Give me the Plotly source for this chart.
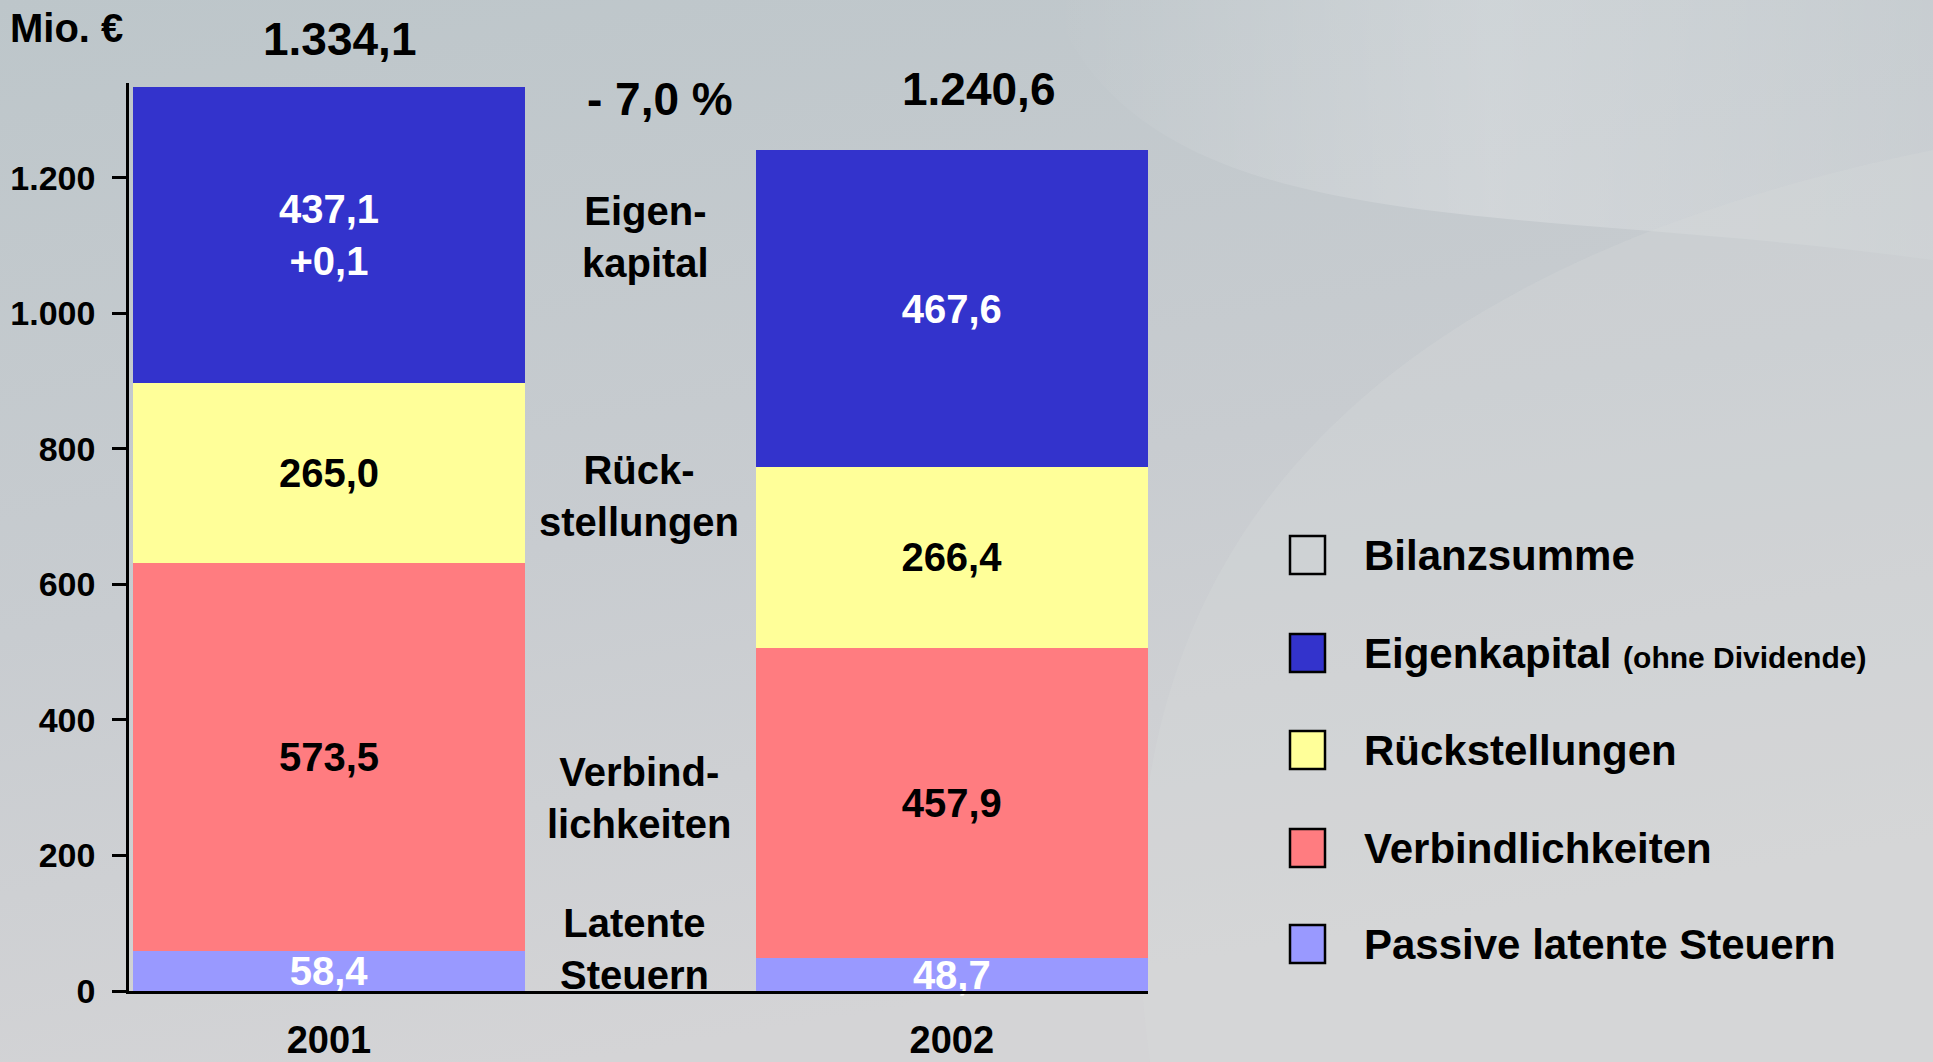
import base64
import plotly.graph_objects as go

# ---- data ----
years = ["2001", "2002"]
latente_steuern = [58.4, 48.7]
verbindlichkeiten = [573.5, 457.9]
rueckstellungen = [265.0, 266.4]
eigenkapital = [437.2, 467.6]
eigenkapital_text = ["437,1<br>+0,1", "467,6"]
latente_text = ["58,4", "48,7"]
verbind_text = ["573,5", "457,9"]
rueck_text = ["265,0", "266,4"]
bilanzsumme_text = ["1.334,1", "1.240,6"]
change_text = "- 7,0 %"
tick_vals = [0, 200, 400, 600, 800, 1000, 1200]
tick_text = ["0", "200", "400", "600", "800", "1.000", "1.200"]
legend_labels = ["Bilanzsumme",
                 "Eigenkapital <span style='font-size:30px'>(ohne Dividende)</span>",
                 "Rückstellungen", "Verbindlichkeiten", "Passive latente Steuern"]
legend_colors = ["rgba(0,0,0,0)", "#3333CC", "#FFFF99", "#FF7C80", "#9999FF"]
mid_labels = ["Eigen-<br>kapital", "Rück-<br>stellungen", "Verbind-<br>lichkeiten", "Latente<br>Steuern"]

# ---- layout geometry ----
W, H = 1933, 1062
L, R, T, B = 129, 785, 83, 71
PW, PH = W - L - R, H - T - B
YMAX = 1340

def px2x(px):
    return (px - L) / PW

def py2y(py):
    return (H - B - py) / PH

FONT = "Liberation Sans, Arial, Helvetica, sans-serif"

fig = go.Figure()
segments = [
    ("Passive latente Steuern", latente_steuern, latente_text, "#9999FF", "white"),
    ("Verbindlichkeiten", verbindlichkeiten, verbind_text, "#FF7C80", "black"),
    ("Rückstellungen", rueckstellungen, rueck_text, "#FFFF99", "black"),
    ("Eigenkapital", eigenkapital, eigenkapital_text, "#3333CC", "white"),
]
for name, vals, txt, col, tcol in segments:
    fig.add_trace(go.Bar(
        x=[0, 1], y=vals, name=name, text=txt, textposition="inside",
        insidetextanchor="middle", constraintext="none", cliponaxis=False,
        textfont=dict(family=FONT, size=40, color=tcol, weight="bold"),
        marker=dict(color=col, line=dict(width=0)), width=0.63,
        showlegend=False, hoverinfo="skip"))

annotations = []

def label(cx, cy, text, size, xanchor="center"):
    annotations.append(dict(x=px2x(cx), y=py2y(cy), xref="paper", yref="paper", text=text,
                            showarrow=False, xanchor=xanchor, yanchor="middle", align="center",
                            font=dict(family=FONT, size=size, color="black", weight="bold")))

# totals (Bilanzsumme) above the bars
for (cx, cy), txt in zip([(339, 39), (978, 89)], bilanzsumme_text):
    label(cx, cy, txt, 46)
label(660, 99, change_text, 46)
label(8, 28, "Mio. €", 40, xanchor="left")
for (cx, cy), t in zip([(645, 237), (639, 496), (639, 798), (634, 949)], mid_labels):
    label(cx, cy, t, 40)

shapes = []
leg_y = [555, 653, 750, 848, 944]
for yy, lab, col in zip(leg_y, legend_labels, legend_colors):
    shapes.append(dict(type="rect", xref="paper", yref="paper",
                       x0=px2x(1290), x1=px2x(1325), y0=py2y(yy + 19), y1=py2y(yy - 19),
                       fillcolor=col, line=dict(color="black", width=2.5)))
    label(1362, yy, lab, 42, xanchor="left")

svg = f"""<svg xmlns='http://www.w3.org/2000/svg' width='{W}' height='{H}' viewBox='0 0 {W} {H}'>
<defs>
<linearGradient id='g' x1='0' y1='0' x2='0.3' y2='1'>
<stop offset='0' stop-color='#bdc6ca'/><stop offset='0.55' stop-color='#c8ccd0'/><stop offset='1' stop-color='#d4d4d6'/>
</linearGradient>
<linearGradient id='s' x1='0' y1='0' x2='1' y2='0'>
<stop offset='0' stop-color='#ffffff' stop-opacity='0'/><stop offset='0.5' stop-color='#ffffff' stop-opacity='0.22'/><stop offset='1' stop-color='#ffffff' stop-opacity='0.08'/>
</linearGradient>
</defs>
<rect width='{W}' height='{H}' fill='url(#g)'/>
<path d='M1050,0 C1150,250 1500,200 1933,260 L1933,0 Z' fill='url(#s)'/>
<path d='M1150,1062 C1100,700 1200,300 1933,150 L1933,1062 Z' fill='#d8d9db' fill-opacity='0.3'/>
</svg>"""
uri = "data:image/svg+xml;base64," + base64.b64encode(svg.encode()).decode()

fig.update_layout(
    width=W, height=H, barmode="stack",
    margin=dict(l=L, r=R, t=T, b=B, autoexpand=False),
    paper_bgcolor="#c8cdd0", plot_bgcolor="rgba(0,0,0,0)",
    images=[dict(source=uri, xref="paper", yref="paper", x=px2x(0), y=py2y(0),
                 sizex=W / PW, sizey=H / PH, sizing="stretch", layer="below",
                 xanchor="left", yanchor="top")],
    annotations=annotations, shapes=shapes, showlegend=False,
    xaxis=dict(range=[-0.321, 1.315], tickvals=[0, 1], ticktext=years, showgrid=False,
               showline=True, linecolor="black", linewidth=2.5, ticks="", zeroline=False,
               ticklabelstandoff=14, fixedrange=True,
               tickfont=dict(family=FONT, size=38, color="black", weight="bold")),
    yaxis=dict(range=[0, YMAX], tickvals=tick_vals, ticktext=tick_text, showgrid=False,
               showline=True, linecolor="black", linewidth=2.5, ticks="outside", ticklen=14,
               tickwidth=2.5, tickcolor="black", zeroline=False, ticklabelstandoff=10,
               tickfont=dict(family=FONT, size=34, color="black", weight="bold")),
)

fig.write_html("out.html", config={"displayModeBar": False},
               post_script="document.body.style.margin='0';document.body.style.overflow='hidden';")
